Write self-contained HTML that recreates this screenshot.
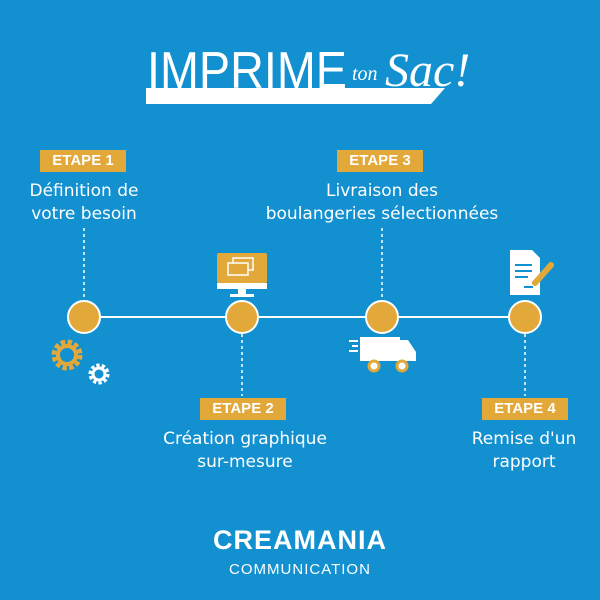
<!DOCTYPE html>
<html><head><meta charset="utf-8"><style>
body{margin:0;width:600px;height:600px;background:#1290d0;position:relative;overflow:hidden;font-family:"Liberation Sans",sans-serif;color:#fff}
.box{position:absolute;background:#e2a93a;color:#fff;font-weight:bold;font-size:15px;text-align:center;height:22px;line-height:22px;width:86px}
.t{position:absolute;font-family:"Comic Sans MS","DejaVu Sans",sans-serif;font-size:17px;line-height:23px;text-align:center;width:260px}
</style></head><body>
<svg width="600" height="600" style="position:absolute;left:0;top:0">
<text x="147" y="88" font-family="Liberation Sans" font-size="52" fill="#fff" font-weight="300" textLength="200" lengthAdjust="spacingAndGlyphs">IMPRIME</text>
<text x="352" y="80" font-family="Liberation Serif" font-style="italic" font-size="20" fill="#fff">ton</text>
<text x="385" y="86" font-family="Liberation Serif" font-style="italic" font-size="48" fill="#fff">Sac!</text>
<polygon points="146,88 445,88 431,104 146,104" fill="#fff"/>
<line x1="84" y1="317" x2="525" y2="317" stroke="#fff" stroke-width="2"/>
<g stroke="#fff" stroke-width="1.5" stroke-dasharray="3,3">
<line x1="84" y1="228" x2="84" y2="300"/><line x1="382" y1="228" x2="382" y2="300"/>
<line x1="242" y1="334" x2="242" y2="396"/><line x1="525" y1="334" x2="525" y2="396"/></g>
<g fill="#e2a93a" stroke="#fff" stroke-width="2">
<circle cx="84" cy="317" r="16"/><circle cx="242" cy="317" r="16"/><circle cx="382" cy="317" r="16"/><circle cx="525" cy="317" r="16"/></g>
<!-- gears -->
<circle cx="67" cy="355" r="12" fill="none" stroke="#e2a93a" stroke-width="7" stroke-dasharray="4,2.3"/>
<circle cx="67" cy="355" r="9" fill="none" stroke="#e2a93a" stroke-width="4"/>
<circle cx="99" cy="374" r="8" fill="none" stroke="#fff" stroke-width="5" stroke-dasharray="3,2"/>
<circle cx="99" cy="374" r="6" fill="none" stroke="#fff" stroke-width="3"/>
<!-- monitor -->
<rect x="217" y="253" width="50" height="30" rx="2" fill="#e2a93a"/>
<rect x="217" y="283" width="50" height="6" fill="#fff"/>
<rect x="238" y="289" width="8" height="5" fill="#fff"/><rect x="230" y="294" width="24" height="3" fill="#fff"/>
<rect x="233" y="258" width="20" height="12" fill="none" stroke="#fff" stroke-width="1.5"/>
<rect x="228" y="263" width="20" height="12" fill="#e2a93a" stroke="#fff" stroke-width="1.5"/>
<!-- truck -->
<rect x="360" y="337" width="40" height="24" fill="#fff"/>
<path d="M400 340 L408 340 L416 352 L416 361 L400 361Z" fill="#fff"/>
<g stroke="#fff" stroke-width="2"><line x1="349" y1="341" x2="358" y2="341"/><line x1="352" y1="346" x2="358" y2="346"/><line x1="349" y1="351" x2="358" y2="351"/></g>
<circle cx="374" cy="366" r="5" fill="#fff" stroke="#e2a93a" stroke-width="3"/><circle cx="402" cy="366" r="5" fill="#fff" stroke="#e2a93a" stroke-width="3"/>
<!-- doc -->
<path d="M510 250 L532 250 L540 258 L540 295 L510 295Z" fill="#fff"/>
<g stroke="#1290d0" stroke-width="2"><line x1="515" y1="265" x2="532" y2="265"/><line x1="515" y1="271" x2="532" y2="271"/><line x1="515" y1="277" x2="528" y2="277"/><line x1="524" y1="287" x2="533" y2="287"/></g>
<line x1="535" y1="283" x2="551" y2="265" stroke="#e2a93a" stroke-width="6" stroke-linecap="round"/>
</svg>
<div class="box" style="left:40px;top:150px">ETAPE 1</div>
<div class="box" style="left:337px;top:150px">ETAPE 3</div>
<div class="box" style="left:200px;top:398px">ETAPE 2</div>
<div class="box" style="left:482px;top:398px">ETAPE 4</div>
<div class="t" style="left:-46px;top:180px">Définition de<br>votre besoin</div>
<div class="t" style="left:252px;top:180px">Livraison des<br>boulangeries sélectionnées</div>
<div class="t" style="left:115px;top:428px">Création graphique<br>sur-mesure</div>
<div class="t" style="left:394px;top:428px">Remise d'un<br>rapport</div>
<div style="position:absolute;left:0;width:600px;top:525px;text-align:center;font-weight:bold;font-size:27px;letter-spacing:1px">CREAMANIA</div>
<div style="position:absolute;left:0;width:600px;top:561px;text-align:center;font-size:15px;letter-spacing:1px">COMMUNICATION</div>
</body></html>
